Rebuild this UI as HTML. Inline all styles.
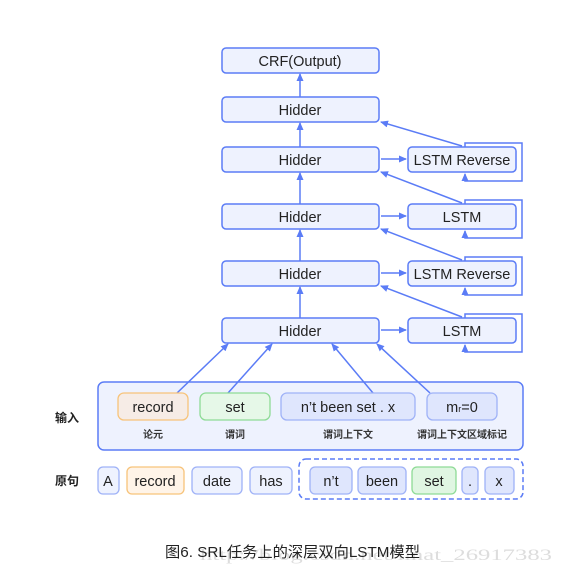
<!DOCTYPE html>
<html><head><meta charset="utf-8"><style>
body{margin:0;background:#fff;width:563px;height:575px;overflow:hidden}
</style></head><body>
<svg width="563" height="575" xmlns="http://www.w3.org/2000/svg" font-family="Liberation Sans, Noto Sans CJK SC, sans-serif">
<defs><marker id="a" markerWidth="8" markerHeight="8" refX="7" refY="4" orient="auto" markerUnits="userSpaceOnUse"><path d="M0,0.5 L8,4 L0,7.5Z" fill="#5b7cf6"/></marker></defs>
<g stroke="#5b7cf6" stroke-width="1.5" fill="#eef2fe">
<rect x="222" y="48" width="157" height="25" rx="4"/>
<rect x="222" y="97" width="157" height="25" rx="4"/>
<rect x="222" y="147" width="157" height="25" rx="4"/>
<rect x="222" y="204" width="157" height="25" rx="4"/>
<rect x="222" y="261" width="157" height="25" rx="4"/>
<rect x="222" y="318" width="157" height="25" rx="4"/>
<rect x="408" y="147" width="108" height="25" rx="4"/>
<rect x="408" y="204" width="108" height="25" rx="4"/>
<rect x="408" y="261" width="108" height="25" rx="4"/>
<rect x="408" y="318" width="108" height="25" rx="4"/>
<rect x="98" y="382" width="425" height="68" rx="6"/>
</g>
<g stroke="#5b7cf6" stroke-width="1.5" fill="none" marker-end="url(#a)">
<line x1="300" y1="97" x2="300" y2="74"/>
<line x1="300" y1="147" x2="300" y2="123"/>
<line x1="300" y1="204" x2="300" y2="173"/>
<line x1="300" y1="261" x2="300" y2="230"/>
<line x1="300" y1="318" x2="300" y2="287"/>
<line x1="381" y1="159" x2="406" y2="159"/>
<line x1="381" y1="216" x2="406" y2="216"/>
<line x1="381" y1="273" x2="406" y2="273"/>
<line x1="381" y1="330" x2="406" y2="330"/>
<line x1="462" y1="146" x2="381" y2="122"/>
<line x1="462" y1="203" x2="381" y2="172"/>
<line x1="462" y1="260" x2="381" y2="229"/>
<line x1="462" y1="317" x2="381" y2="286"/>
<path d="M465 147 V143 H522 V181 H465 V174"/>
<path d="M465 204 V200 H522 V238 H465 V231"/>
<path d="M465 261 V257 H522 V295 H465 V288"/>
<path d="M465 318 V314 H522 V352 H465 V345"/>
<line x1="177" y1="393" x2="228" y2="344"/>
<line x1="228" y1="393" x2="272" y2="344"/>
<line x1="373" y1="393" x2="332" y2="344"/>
<line x1="430" y1="393" x2="377" y2="344"/>
</g>
<g stroke-width="1.3">
<rect x="118" y="393" width="70" height="27" rx="6" fill="#f6ece6" stroke="#f7c37a"/>
<rect x="200" y="393" width="70" height="27" rx="6" fill="#e6f8e8" stroke="#8edb96"/>
<rect x="281" y="393" width="134" height="27" rx="6" fill="#dfe6fd" stroke="#9fb2f7"/>
<rect x="427" y="393" width="70" height="27" rx="6" fill="#dfe6fd" stroke="#9fb2f7"/>
<rect x="98" y="467" width="21" height="27" rx="5" fill="#eef2fe" stroke="#9fb2f7"/>
<rect x="127" y="467" width="57" height="27" rx="5" fill="#fff4e8" stroke="#f7c37a"/>
<rect x="192" y="467" width="50" height="27" rx="5" fill="#eef2fe" stroke="#9fb2f7"/>
<rect x="250" y="467" width="42" height="27" rx="5" fill="#eef2fe" stroke="#9fb2f7"/>
<rect x="299" y="459" width="224" height="40" rx="7" fill="none" stroke="#5b7cf6" stroke-width="1.5" stroke-dasharray="5,3"/>
<rect x="310" y="467" width="42" height="27" rx="5" fill="#dfe6fd" stroke="#9fb2f7"/>
<rect x="358" y="467" width="48" height="27" rx="5" fill="#dfe6fd" stroke="#9fb2f7"/>
<rect x="412" y="467" width="44" height="27" rx="5" fill="#e0f6e2" stroke="#8edb96"/>
<rect x="462" y="467" width="16" height="27" rx="5" fill="#dfe6fd" stroke="#9fb2f7"/>
<rect x="485" y="467" width="29" height="27" rx="5" fill="#dfe6fd" stroke="#9fb2f7"/>
</g>
<g font-size="14.5" fill="#222" text-anchor="middle">
<text x="300" y="66">CRF(Output)</text>
<text x="300" y="115">Hidder</text>
<text x="300" y="165">Hidder</text>
<text x="300" y="222">Hidder</text>
<text x="300" y="279">Hidder</text>
<text x="300" y="336">Hidder</text>
<text x="462" y="165">LSTM Reverse</text>
<text x="462" y="222">LSTM</text>
<text x="462" y="279">LSTM Reverse</text>
<text x="462" y="336">LSTM</text>
<text x="153" y="412">record</text>
<text x="235" y="412">set</text>
<text x="348" y="412">n’t  been  set . x</text>
<text x="462" y="412">m<tspan font-size="9">r</tspan>=0</text>
<text x="108" y="486">A</text>
<text x="155" y="486">record</text>
<text x="217" y="486">date</text>
<text x="271" y="486">has</text>
<text x="331" y="486">n’t</text>
<text x="382" y="486">been</text>
<text x="434" y="486">set</text>
<text x="470" y="486">.</text>
<text x="499" y="486">x</text>
</g>
<g font-size="10" fill="#333" text-anchor="middle" font-weight="bold">
<text x="153" y="438">论元</text>
<text x="235" y="438">谓词</text>
<text x="348" y="438">谓词上下文</text>
<text x="462" y="438">谓词上下文区域标记</text>
</g>
<g font-size="12" fill="#222" font-weight="bold">
<text x="55" y="422">输入</text>
<text x="55" y="485">原句</text>
</g>
<text x="200" y="560" font-size="16" fill="#ddd" font-family="Liberation Serif, serif" textLength="352" lengthAdjust="spacingAndGlyphs">http://blog.csdn.net/linat_26917383</text>
<text x="165" y="557" font-size="15" fill="#222" textLength="255" lengthAdjust="spacingAndGlyphs">图6. SRL任务上的深层双向LSTM模型</text>
</svg>
</body></html>
